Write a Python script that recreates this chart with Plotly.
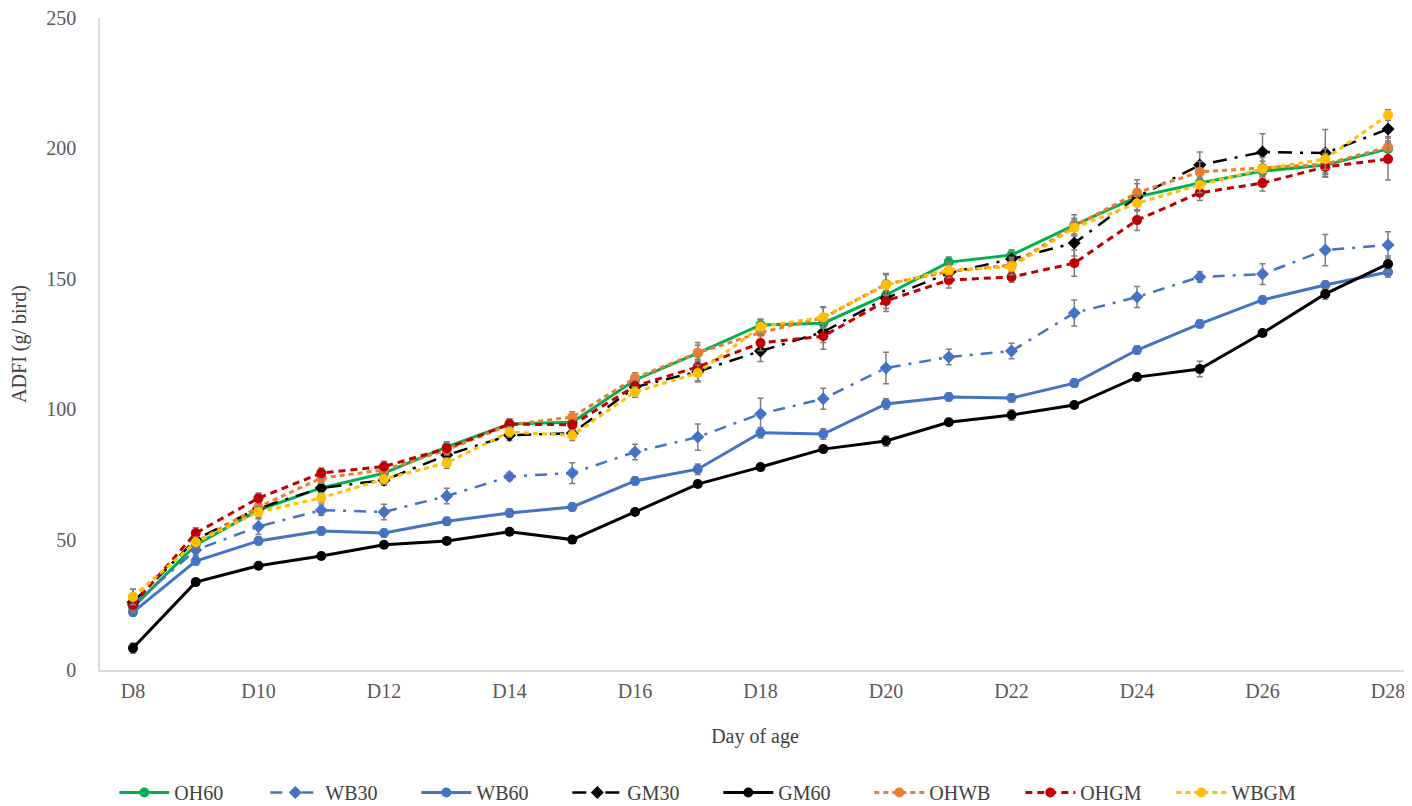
import plotly.graph_objects as go

days = ["D%d" % d for d in range(8, 29)]
tick_days = days[::2]

OH60 = [24, 48, 61.3, 69.8, 75.5, 85.5, 94.3, 95, 111.2, 121.5, 132.3, 133, 143.8, 156.4, 159.1, 170.6, 181.4, 186.7, 191.3, 193.6, 199.8]
WB30 = [25, 46, 55, 61.3, 60.6, 66.7, 74.2, 75.5, 83.6, 89.3, 98.2, 104, 115.8, 120, 122.3, 136.9, 143, 150.7, 151.8, 161, 163]
WB60 = [22.2, 41.8, 49.5, 53.3, 52.5, 57, 60.2, 62.5, 72.5, 77, 91, 90.5, 102, 104.7, 104.3, 110, 122.7, 132.7, 141.9, 147.6, 152.6]
GM30 = [26, 50, 62, 69.8, 72.8, 82.4, 90, 90.8, 108.5, 114.4, 122.3, 129.6, 142.6, 152.2, 157.6, 163.7, 181.4, 193.6, 198.6, 198.2, 207.4]
GM60 = [8.4, 33.7, 40, 43.7, 48, 49.5, 53, 50, 60.6, 71.3, 77.8, 84.7, 87.8, 95, 97.8, 101.6, 112.3, 115.4, 129.2, 144.2, 155.7]
OHWB = [28, 49, 62.5, 73.6, 76.7, 84.4, 94, 97, 112, 121.6, 129.4, 135, 148, 152.7, 155.3, 170.2, 183, 191, 192.5, 194, 200.5]
OHGM = [25, 52.5, 65.9, 75.5, 78, 85, 94.3, 94, 108.9, 116.2, 125.4, 128, 141.5, 149.5, 150.7, 156, 172.5, 183, 186.7, 192.9, 195.9]
WBGM = [28, 49, 60.6, 66, 73.2, 79.4, 91.3, 90, 106.6, 113.9, 131.6, 135.3, 147.6, 153.4, 154.6, 169.5, 179, 186, 192.1, 195.9, 212.8]

OH60_err = [2, 2, 2, 2, 2, 2, 2, 2, 2, 3, 2, 3, 3, 2, 2, 4, 3, 3, 2, 3, 3]
WB30_err = [3, 2, 3, 2, 3, 3, 1.5, 4, 3, 5, 6, 4, 6, 3, 3, 5, 4, 2, 4, 6, 5]
WB60_err = [1.5, 1.5, 1.5, 1.5, 1.5, 1.5, 1.5, 1.5, 1.5, 2, 2, 2, 2, 1.5, 1.5, 1.5, 1.5, 1.5, 1.5, 1.5, 2]
GM30_err = [3, 2, 2, 2, 2, 3, 2, 2, 3, 4, 4, 4, 4, 3, 3, 5, 5, 5, 7, 9, 5]
GM60_err = [2, 1, 1, 1, 1, 1, 1, 1, 1, 1, 1, 1, 2, 1, 2, 1, 1, 3, 1, 2, 3]
OHWB_err = [3, 2, 2, 2, 2, 2, 2, 2, 2, 4, 3, 4, 4, 3, 3, 3, 5, 4, 4, 4, 4]
OHGM_err = [3, 2, 2, 2, 2, 2, 2, 2, 2, 3, 3, 5, 4, 3, 2, 5, 4, 3, 3, 4, 8]
WBGM_err = [3, 2, 2, 2, 2, 2, 2, 2, 2, 3, 3, 4, 4, 3, 3, 3, 3, 3, 3, 4, 2]

series = [
    ("OH60", OH60, OH60_err, "#00B050", "solid", "circle", 3),
    ("WB30", WB30, WB30_err, "#4472C4", "12px,8px,3px,8px", "diamond", 2.5),
    ("WB60", WB60, WB60_err, "#4472C4", "solid", "circle", 3),
    ("GM30", GM30, GM30_err, "#000000", "14px,8px,3px,8px", "diamond", 2.5),
    ("GM60", GM60, GM60_err, "#000000", "solid", "circle", 3),
    ("OHWB", OHWB, OHWB_err, "#ED7D31", "5px,4px", "circle", 3),
    ("OHGM", OHGM, OHGM_err, "#C00000", "7px,5px", "circle", 3),
    ("WBGM", WBGM, WBGM_err, "#FFC000", "5px,4px", "circle", 3),
]

fig = go.Figure()
for name, vals, err, color, dash, sym, w in series:
    fig.add_trace(go.Scatter(
        x=days, y=vals, name=name, mode="lines+markers",
        line=dict(color=color, width=w, dash=dash),
        marker=dict(color=color, size=10, symbol=sym),
        error_y=dict(type="data", array=err, visible=True, color="#7F7F7F", thickness=1.5, width=3),
    ))

font_family = "Liberation Serif, Times New Roman, serif"
fig.update_layout(
    width=1404, height=798,
    paper_bgcolor="white", plot_bgcolor="white",
    margin=dict(l=92, r=2, t=10, b=136, autoexpand=False),
    font=dict(family=font_family, size=20, color="#595959"),
    showlegend=True,
    legend=dict(orientation="h", x=0.472, xanchor="center", y=-0.188, yanchor="middle",
                font=dict(family=font_family, size=20, color="#404040"),
                entrywidth=86, itemwidth=50, tracegroupgap=0),
)
fig.update_xaxes(
    type="category", range=[-0.526, 20.35], automargin=False,
    tickmode="array", tickvals=tick_days, ticktext=tick_days,
    showline=True, linecolor="#D9D9D9", linewidth=1.5, showgrid=False, zeroline=False,
    ticks="", ticklabelstandoff=2, ticklabeloverflow="allow",
    title=dict(text="Day of age", font=dict(family=font_family, size=20, color="#404040"), standoff=28),
)
fig.update_yaxes(
    range=[0, 250], dtick=50, tick0=0, automargin=False,
    showline=True, linecolor="#D9D9D9", linewidth=1.5, showgrid=False, zeroline=False,
    ticks="", ticklabelstandoff=18, ticklabeloverflow="allow",
    title=dict(text="ADFI (g/ bird)", font=dict(family=font_family, size=20, color="#404040"), standoff=14),
)
fig.write_html("out.html")
